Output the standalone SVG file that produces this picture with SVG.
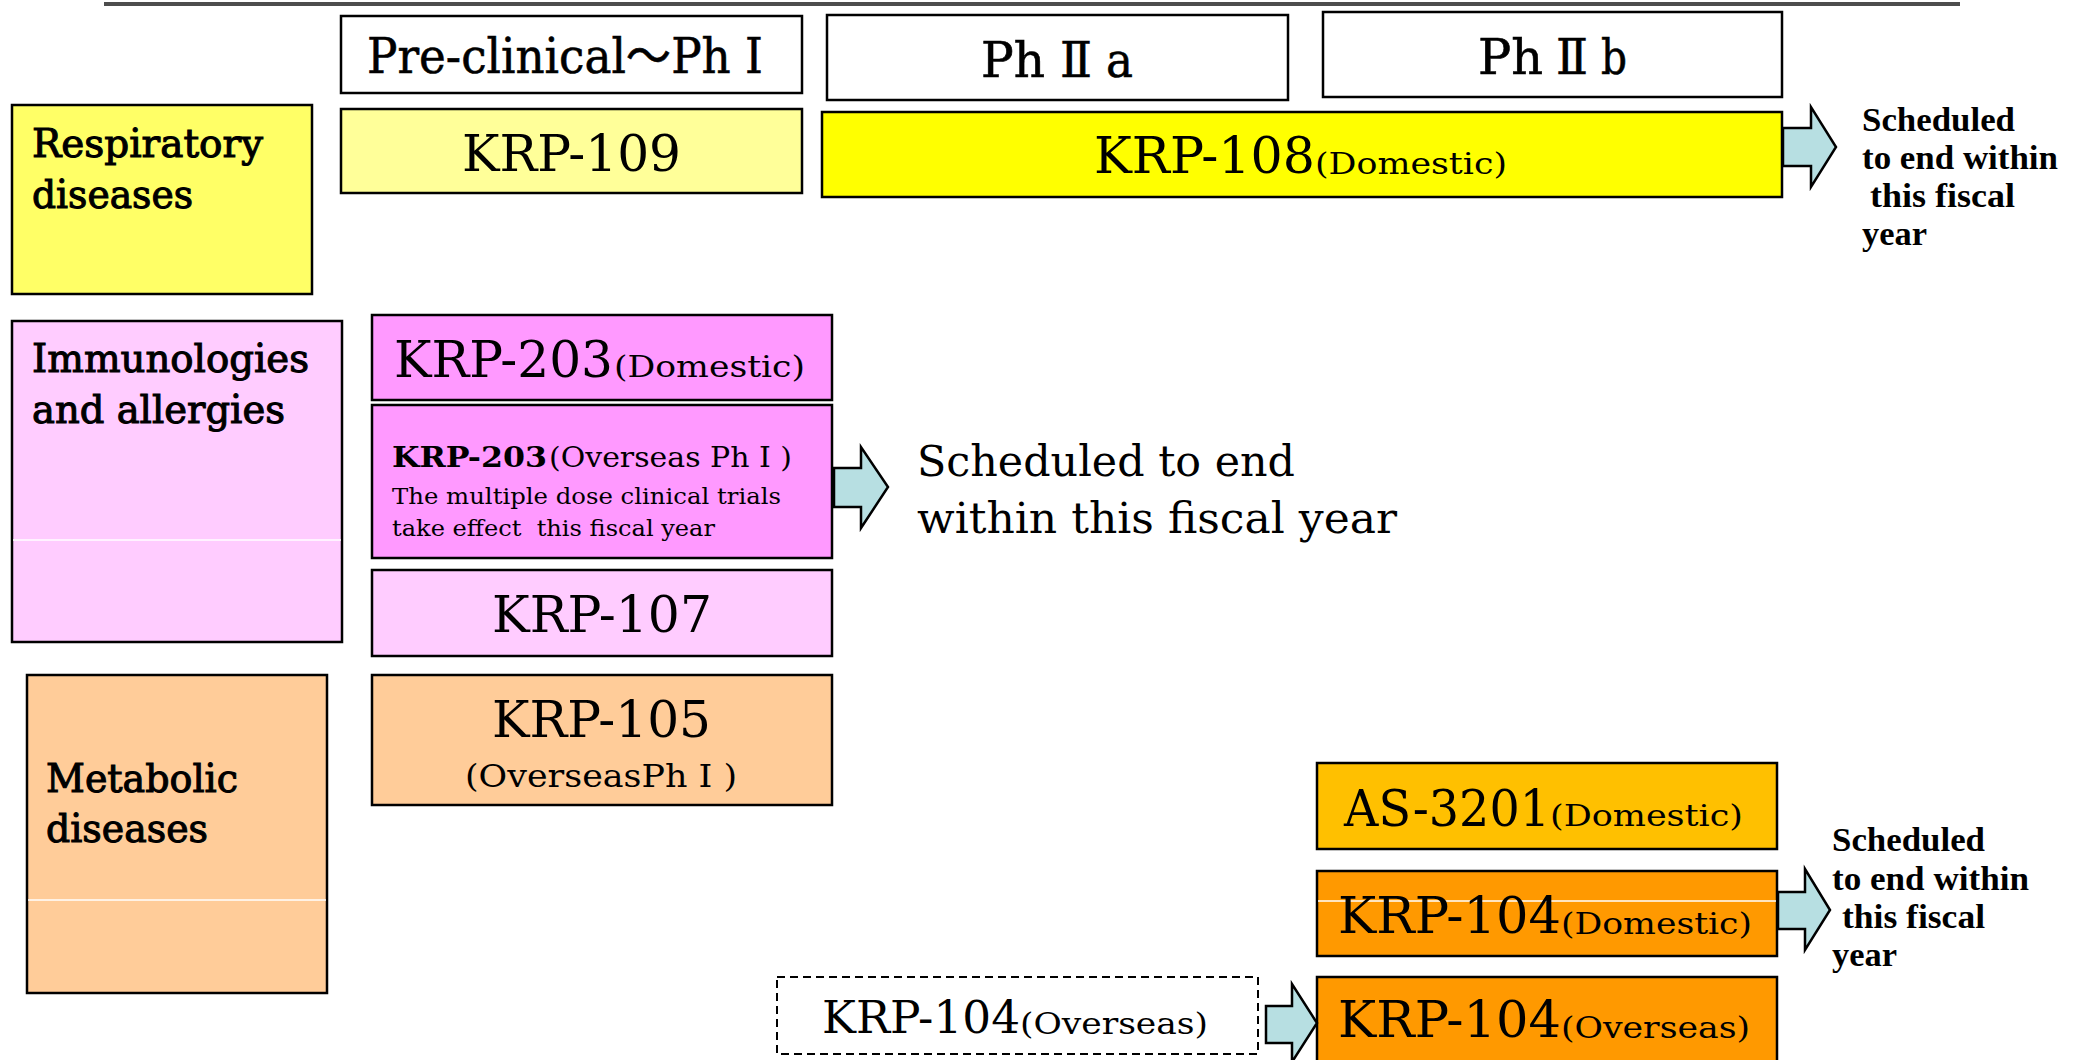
<svg xmlns="http://www.w3.org/2000/svg" width="2081" height="1060" viewBox="0 0 2081 1060">
<style>
.box{stroke:#000;stroke-width:2.5}
.t{font-family:"DejaVu Serif","Noto Sans CJK JP",serif;fill:#000}
.big{font-size:50px}
.par{font-size:30px}
.hdr{font-size:48px;stroke:#000;stroke-width:0.6}
.lab{font-size:40px;stroke:#000;stroke-width:1.1}
.sch{font-family:"Liberation Serif","Noto Sans CJK JP",serif;font-size:33px;font-weight:bold;fill:#000}
.arr{fill:#B7DFE2;stroke:#000;stroke-width:2.5;stroke-linejoin:miter}
.wl{stroke:#fff;stroke-width:1.5}
</style>
<rect width="2081" height="1060" fill="#fff"/>
<line x1="104" y1="4" x2="1960" y2="4" stroke="#4D4D4D" stroke-width="4"/>

<g id="hdr-pre"><rect class="box" x="341" y="16" width="461" height="77" fill="#fff"/>
<text class="t hdr" x="367" y="73" textLength="396" lengthAdjust="spacingAndGlyphs">Pre-clinical～Ph Ⅰ</text></g>
<g id="hdr-2a"><rect class="box" x="827" y="15" width="461" height="85" fill="#fff"/>
<text class="t hdr" y="77"><tspan x="981" textLength="64" lengthAdjust="spacingAndGlyphs">Ph</tspan><tspan x="1060" textLength="32" lengthAdjust="spacingAndGlyphs">Ⅱ</tspan><tspan x="1106" textLength="27" lengthAdjust="spacingAndGlyphs">a</tspan></text></g>
<g id="hdr-2b"><rect class="box" x="1323" y="12" width="459" height="85" fill="#fff"/>
<text class="t hdr" y="74"><tspan x="1478" textLength="65" lengthAdjust="spacingAndGlyphs">Ph</tspan><tspan x="1556" textLength="32" lengthAdjust="spacingAndGlyphs">Ⅱ</tspan><tspan x="1601" textLength="26" lengthAdjust="spacingAndGlyphs">b</tspan></text></g>

<g id="cat-resp"><rect class="box" x="12" y="105" width="300" height="189" fill="#FFFF66"/>
<text class="t lab" x="32" y="157" textLength="231" lengthAdjust="spacingAndGlyphs">Respiratory</text>
<text class="t lab" x="32" y="208" textLength="161" lengthAdjust="spacingAndGlyphs">diseases</text></g>

<g id="krp109"><rect class="box" x="341" y="109" width="461" height="84" fill="#FFFF99"/>
<text class="t big" x="462" y="171" textLength="219" lengthAdjust="spacingAndGlyphs">KRP-109</text></g>

<g id="krp108"><rect class="box" x="822" y="112" width="960" height="85" fill="#FFFF00"/>
<text class="t big" x="1094" y="173" textLength="221" lengthAdjust="spacingAndGlyphs">KRP-108</text>
<text class="t par" x="1315" y="174" textLength="192" lengthAdjust="spacingAndGlyphs">(Domestic)</text></g>

<g id="note-top">
<text class="sch" x="1862" y="131" textLength="153" lengthAdjust="spacingAndGlyphs">Scheduled</text>
<text class="sch" x="1862" y="169" textLength="196" lengthAdjust="spacingAndGlyphs">to end within</text>
<text class="sch" x="1870" y="207" textLength="145" lengthAdjust="spacingAndGlyphs">this fiscal</text>
<text class="sch" x="1862" y="245" textLength="65" lengthAdjust="spacingAndGlyphs">year</text></g>

<g id="cat-imm"><rect class="box" x="12" y="321" width="330" height="321" fill="#FFCCFF"/>
<line class="wl" x1="13" y1="540" x2="341" y2="540"/>
<text class="t lab" x="32" y="372" textLength="277" lengthAdjust="spacingAndGlyphs">Immunologies</text>
<text class="t lab" x="32" y="423" textLength="253" lengthAdjust="spacingAndGlyphs">and allergies</text></g>

<g id="krp203d"><rect class="box" x="372" y="315" width="460" height="85" fill="#FF99FF"/>
<text class="t big" x="394" y="377" textLength="219" lengthAdjust="spacingAndGlyphs">KRP-203</text>
<text class="t par" x="614" y="377" textLength="191" lengthAdjust="spacingAndGlyphs">(Domestic)</text></g>

<g id="krp203o"><rect class="box" x="372" y="405" width="460" height="153" fill="#FF99FF"/>
<text class="t" x="392" y="467" font-size="28" font-weight="bold" textLength="155" lengthAdjust="spacingAndGlyphs">KRP-203</text>
<text class="t" x="549" y="467" font-size="28" textLength="243" lengthAdjust="spacingAndGlyphs">(Overseas Ph Ⅰ )</text>
<text class="t" x="392" y="504" font-size="22" textLength="389" lengthAdjust="spacingAndGlyphs">The multiple dose clinical trials</text>
<text class="t" x="392" y="536" font-size="22" textLength="323" lengthAdjust="spacingAndGlyphs" style="white-space:pre">take effect  this fiscal year</text></g>

<g id="note-mid">
<text class="t" x="917" y="476" font-size="43" textLength="378" lengthAdjust="spacingAndGlyphs">Scheduled to end</text>
<text class="t" x="917" y="533" font-size="43" textLength="480" lengthAdjust="spacingAndGlyphs">within this fiscal year</text></g>

<g id="krp107"><rect class="box" x="372" y="570" width="460" height="86" fill="#FFCCFF"/>
<text class="t big" x="492" y="632" textLength="220" lengthAdjust="spacingAndGlyphs">KRP-107</text></g>

<g id="cat-met"><rect class="box" x="27" y="675" width="300" height="318" fill="#FFCC99"/>
<line class="wl" x1="28" y1="900" x2="326" y2="900"/>
<text class="t lab" x="46" y="792" textLength="192" lengthAdjust="spacingAndGlyphs">Metabolic</text>
<text class="t lab" x="46" y="842" textLength="162" lengthAdjust="spacingAndGlyphs">diseases</text></g>

<g id="krp105"><rect class="box" x="372" y="675" width="460" height="130" fill="#FFCC99"/>
<text class="t big" x="492" y="737" textLength="219" lengthAdjust="spacingAndGlyphs">KRP-105</text>
<text class="t" x="465" y="787" font-size="32" textLength="272" lengthAdjust="spacingAndGlyphs">(OverseasPh Ⅰ )</text></g>

<g id="as3201"><rect class="box" x="1317" y="763" width="460" height="86" fill="#FFC000"/>
<text class="t big" x="1344" y="826" textLength="206" lengthAdjust="spacingAndGlyphs">AS-3201</text>
<text class="t par" x="1550" y="826" textLength="193" lengthAdjust="spacingAndGlyphs">(Domestic)</text></g>

<g id="krp104d"><rect class="box" x="1317" y="871" width="460" height="85" fill="#FF9900"/>
<line class="wl" x1="1318" y1="901" x2="1776" y2="901"/>
<text class="t big" x="1338" y="933" textLength="223" lengthAdjust="spacingAndGlyphs">KRP-104</text>
<text class="t par" x="1561" y="934" textLength="191" lengthAdjust="spacingAndGlyphs">(Domestic)</text></g>

<g id="note-bot">
<text class="sch" x="1832" y="851" textLength="153" lengthAdjust="spacingAndGlyphs">Scheduled</text>
<text class="sch" x="1832" y="890" textLength="197" lengthAdjust="spacingAndGlyphs">to end within</text>
<text class="sch" x="1842" y="928" textLength="143" lengthAdjust="spacingAndGlyphs">this fiscal</text>
<text class="sch" x="1832" y="966" textLength="65" lengthAdjust="spacingAndGlyphs">year</text></g>

<g id="krp104o-plan"><rect x="777" y="977" width="481" height="77" fill="#fff" stroke="#000" stroke-width="2" stroke-dasharray="8 5"/>
<text class="t" x="822" y="1033" font-size="45" textLength="198" lengthAdjust="spacingAndGlyphs">KRP-104</text>
<text class="t par" x="1020" y="1034" textLength="188" lengthAdjust="spacingAndGlyphs">(Overseas)</text></g>

<g id="krp104o"><rect class="box" x="1317" y="977" width="460" height="90" fill="#FF9900"/>
<text class="t big" x="1338" y="1037" textLength="223" lengthAdjust="spacingAndGlyphs">KRP-104</text>
<text class="t par" x="1561" y="1038" textLength="189" lengthAdjust="spacingAndGlyphs">(Overseas)</text></g>

<g id="connectors">
<polygon class="arr" points="1783,128 1811,128 1811,107 1836,147 1811,187 1811,166 1783,166"/>
<polygon class="arr" points="834,468 861,468 861,447 888,487 861,528 861,507 834,507"/>
<polygon class="arr" points="1778,892 1805,892 1805,869 1830,910 1805,950 1805,929 1778,929"/>
<polygon class="arr" points="1266,1006 1292,1006 1292,984 1317,1023 1292,1062 1292,1043 1266,1043"/>
</g>
</svg>
